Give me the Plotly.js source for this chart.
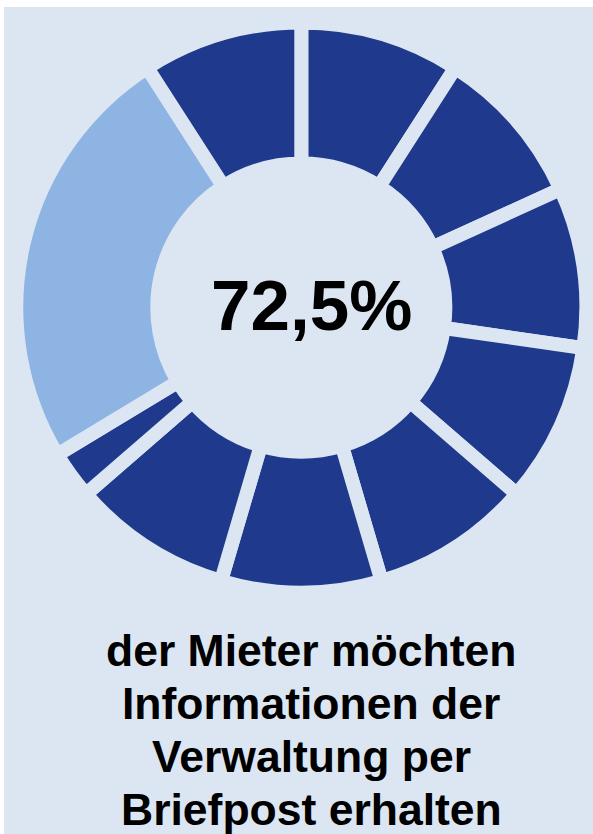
<!DOCTYPE html>
<html>
<head>
<meta charset="utf-8">
<script src="https://cdn.plot.ly/plotly-3.0.1.min.js"></script>
<style>
  html, body { margin: 0; padding: 0; background: #ffffff; }
  #chart { width: 593px; height: 834px; }
</style>
</head>
<body>
<div id="chart"></div>
<script>
// ---- data ----
var segmentLabels = ["S1", "S2", "S3", "S4", "S5", "S6", "S7", "S8", "Rest", "S9"];
var segmentValues = [1, 1, 1, 1, 1, 1, 1, 0.3, 2.7, 1];
var segmentGroups = ["ja", "ja", "ja", "ja", "ja", "ja", "ja", "ja", "nein", "ja"];
var centerLabel = "72,5%";
var captionLines = ["der Mieter möchten", "Informationen der", "Verwaltung per", "Briefpost erhalten"];

// ---- style ----
var BG = "#dce6f2";
var groupColors = { ja: "#1f3a8c", nein: "#8eb4e3" };
var W = 593, H = 834;
var cx = 301.3, cy = 307.5, R = 285;

var trace = {
  type: "pie",
  labels: segmentLabels,
  values: segmentValues,
  sort: false,
  direction: "clockwise",
  rotation: 0,
  hole: 144 / 285,
  textinfo: "none",
  hoverinfo: "skip",
  showlegend: false,
  marker: {
    colors: segmentGroups.map(function (g) { return groupColors[g]; }),
    line: { color: BG, width: 14 }
  },
  domain: {
    x: [(cx - R) / W, (cx + R) / W],
    y: [1 - (cy + R) / H, 1 - (cy - R) / H]
  }
};

var lineY = [650, 703, 756, 809];
var annotations = [{
  text: "<b>" + centerLabel + "</b>",
  xref: "paper", yref: "paper",
  x: 311 / W, y: 1 - 306 / H,
  xanchor: "center", yanchor: "middle",
  showarrow: false,
  font: { family: "Liberation Sans, Arial, sans-serif", size: 71, color: "#000000" }
}];
captionLines.forEach(function (t, i) {
  annotations.push({
    text: "<b>" + t + "</b>",
    xref: "paper", yref: "paper",
    x: 311 / W, y: 1 - lineY[i] / H,
    xanchor: "center", yanchor: "middle",
    showarrow: false,
    font: { family: "Liberation Sans, Arial, sans-serif", size: 44.5, color: "#000000" }
  });
});

var layout = {
  width: W, height: H,
  margin: { l: 0, r: 0, t: 0, b: 0, pad: 0 },
  paper_bgcolor: "#ffffff",
  plot_bgcolor: "#ffffff",
  shapes: [{
    type: "rect", xref: "paper", yref: "paper", layer: "below",
    x0: 4 / W, x1: 1, y0: 0, y1: 1 - 7 / H,
    fillcolor: BG, line: { width: 0 }
  }],
  annotations: annotations
};

Plotly.newPlot("chart", [trace], layout, { displayModeBar: false, staticPlot: true });
</script>
</body>
</html>
